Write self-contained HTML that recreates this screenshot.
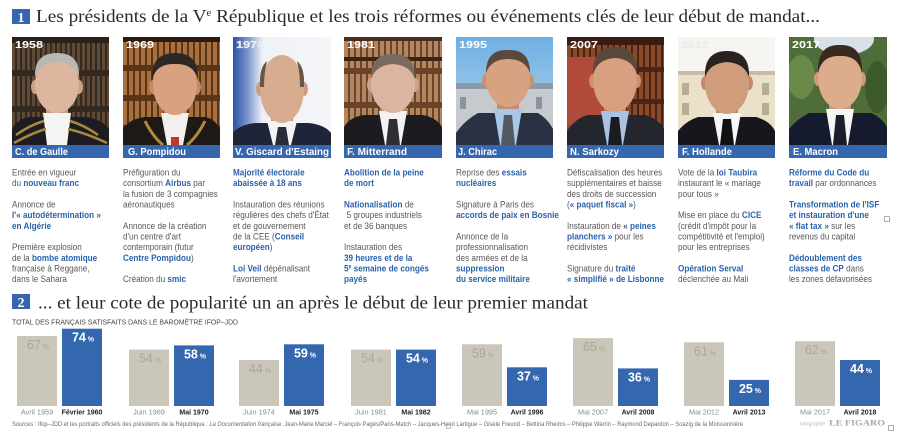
<!DOCTYPE html>
<html><head><meta charset="utf-8"><style>
html,body{margin:0;padding:0;background:#fff;}
svg{display:block;}
</style></head><body>
<svg width="900" height="436" viewBox="0 0 900 436" xmlns="http://www.w3.org/2000/svg" font-family="Liberation Sans, sans-serif">
<defs>
<pattern id="bk1" width="5" height="36" patternUnits="userSpaceOnUse"><rect width="5" height="36" fill="#33291f"/><rect x="0" y="3" width="3" height="30" fill="#5e4a36"/></pattern>
<pattern id="bk2" width="6" height="30" patternUnits="userSpaceOnUse"><rect width="6" height="30" fill="#5a3418"/><rect x="0" y="4" width="4" height="24" fill="#a8703e"/></pattern>
<pattern id="bk4" width="6" height="34" patternUnits="userSpaceOnUse"><rect width="6" height="34" fill="#6a4428"/><rect x="0" y="3" width="4" height="28" fill="#b38560"/></pattern>
<pattern id="bk6" width="6" height="32" patternUnits="userSpaceOnUse"><rect width="6" height="32" fill="#4a2414"/><rect x="0" y="3" width="4" height="27" fill="#8a4a2a"/></pattern>
<linearGradient id="sky" x1="0" y1="0" x2="0" y2="1"><stop offset="0" stop-color="#6fb0e2"/><stop offset="1" stop-color="#b8d6ee"/></linearGradient>
<linearGradient id="gis" x1="0" y1="0" x2="1" y2="0"><stop offset="0" stop-color="#2c52a6"/><stop offset="0.15" stop-color="#7a95cc"/><stop offset="0.3" stop-color="#eef1f6"/><stop offset="1" stop-color="#f5f6f8"/></linearGradient>
</defs>
<rect width="900" height="436" fill="#fff"/>

<!-- Title 1 -->
<rect x="12" y="9" width="18" height="15" fill="#3566ae"/>
<text x="21" y="22" font-size="14" font-weight="bold" fill="#fff" text-anchor="middle" font-family="Liberation Serif, serif">1</text>
<text x="36" y="22" font-size="18" fill="#2a2a2a" font-family="Liberation Serif, serif" textLength="784" lengthAdjust="spacingAndGlyphs">Les présidents de la V<tspan font-size="10" dy="-6">e</tspan><tspan dy="6"> République et les trois réformes ou événements clés de leur début de mandat...</tspan></text>

<!-- Portraits -->
<svg x="12" y="37" width="97" height="108">
<rect width="97" height="108" fill="url(#bk1)"/><rect width="97" height="6" fill="#2a221a"/>
<rect x="34" y="64" width="22" height="18" fill="#c89c84"/>
<path d="M0,108 L0,92 Q6,82 17,80 L73,80 Q90,82 97,92 L97,108 Z" fill="#1c1c22"/>
<polygon points="31,76 59,76 55,108 35,108" fill="#f4f4f2"/>
<path d="M4,98 Q18,88 32,84 M86,98 Q72,88 58,84 M2,106 Q20,96 34,92 M95,106 Q74,96 56,92" stroke="#a8873e" stroke-width="2.5" fill="none"/>
<ellipse cx="23" cy="50" rx="4" ry="7" fill="#cfa088"/><ellipse cx="67" cy="50" rx="4" ry="7" fill="#cfa088"/>
<ellipse cx="45" cy="47" rx="22" ry="29" fill="#dcb69e"/>
<path d="M23,40 Q22,16 45,16 Q68,16 67,40 Q62,26 45,25 Q28,26 23,40 Z" fill="#b9b8b2"/>
</svg>
<svg x="123" y="37" width="97" height="108">
<rect width="97" height="108" fill="url(#bk2)"/><rect y="0" width="97" height="5" fill="#2a1a10"/>
<rect x="41" y="64" width="22" height="18" fill="#c48a6c"/>
<path d="M0,108 L0,92 Q6,82 22,80 L82,80 Q92,82 97,92 L97,108 Z" fill="#1c1916"/>
<polygon points="38,76 66,76 60,108 44,108" fill="#f2f0ee"/>
<path d="M22,84 Q30,100 40,108 M82,84 Q74,100 64,108" stroke="#b08a3a" stroke-width="3" fill="none"/>
<rect x="48" y="100" width="8" height="8" fill="#c0392b"/>
<ellipse cx="30" cy="50" rx="4" ry="7" fill="#c88868"/><ellipse cx="74" cy="50" rx="4" ry="7" fill="#c88868"/>
<ellipse cx="52" cy="48" rx="22" ry="30" fill="#d8a282"/>
<path d="M29,42 Q28,16 52,16 Q76,16 75,42 Q70,26 52,27 Q34,26 29,42 Z" fill="#2c2824"/>
</svg>
<svg x="233" y="37" width="98" height="108">
<rect width="98" height="108" fill="url(#gis)"/>
<rect x="38" y="70" width="22" height="18" fill="#c89a7c"/>
<path d="M0,108 L0,96 Q6,88 22,86 L76,86 Q92,88 98,96 L98,108 Z" fill="#1f2538"/>
<polygon points="34,84 64,84 58,108 40,108" fill="#f4f4f4"/>
<polygon points="45,90 53,90 56,108 42,108" fill="#2a2c3a"/>
<ellipse cx="27" cy="52" rx="4" ry="7" fill="#cc9c80"/><ellipse cx="71" cy="52" rx="4" ry="7" fill="#cc9c80"/>
<ellipse cx="49" cy="52" rx="22" ry="34" fill="#d8ac8e"/>
<path d="M27,50 Q26,30 34,24 Q31,36 31,50 Z M71,50 Q72,30 64,24 Q67,36 67,50 Z" fill="#6a5646"/>
</svg>
<svg x="344" y="37" width="98" height="108">
<rect width="98" height="108" fill="url(#bk4)"/><rect width="98" height="4" fill="#4a2e1a"/><rect y="20" width="98" height="4" fill="#3a2414"/>
<rect x="38" y="62" width="22" height="18" fill="#c49a88"/>
<path d="M0,108 L0,90 Q6,80 20,78 L78,78 Q92,80 98,90 L98,108 Z" fill="#1b1b20"/>
<polygon points="35,74 63,74 57,108 41,108" fill="#f2f2f0"/>
<polygon points="45,82 53,82 56,108 42,108" fill="#2e2e34"/>
<ellipse cx="27" cy="48" rx="4" ry="7" fill="#cfa290"/><ellipse cx="71" cy="48" rx="4" ry="7" fill="#cfa290"/>
<ellipse cx="49" cy="47" rx="22" ry="29" fill="#dcb4a2"/>
<path d="M27,42 Q27,16 49,17 Q71,16 71,42 Q66,28 49,27 Q32,28 27,42 Z" fill="#7a6a60"/>
</svg>
<svg x="456" y="37" width="97" height="108">
<rect width="97" height="108" fill="url(#sky)"/>
<rect x="0" y="46" width="97" height="62" fill="#c6cacf"/>
<rect x="0" y="46" width="97" height="6" fill="#8a9aa8"/>
<rect x="4" y="60" width="6" height="12" fill="#8a949e"/><rect x="80" y="60" width="6" height="12" fill="#8a949e"/>
<rect x="41" y="58" width="22" height="18" fill="#c49070"/>
<path d="M0,108 L0,96 Q8,84 22,76 L82,76 Q92,82 97,92 L97,108 Z" fill="#2a3142"/>
<polygon points="38,72 66,72 60,108 44,108" fill="#a9c7e6"/>
<polygon points="48,78 56,78 59,108 45,108" fill="#55585e"/>
<ellipse cx="30" cy="44" rx="4" ry="7" fill="#c8906e"/><ellipse cx="74" cy="44" rx="4" ry="7" fill="#c8906e"/>
<ellipse cx="52" cy="42" rx="22" ry="28" fill="#d6a282"/>
<path d="M30,36 Q30,12 52,13 Q74,12 74,36 Q69,22 52,22 Q35,22 30,36 Z" fill="#5a4a3e"/>
</svg>
<svg x="567" y="37" width="97" height="108">
<rect width="97" height="108" fill="url(#bk6)"/>
<rect x="0" y="20" width="40" height="68" fill="#b24a3c"/>
<rect x="0" y="0" width="97" height="8" fill="#3a1c10"/>
<rect x="37" y="62" width="22" height="18" fill="#c48a68"/>
<path d="M0,108 L0,94 Q8,82 20,78 L78,78 Q92,82 97,92 L97,108 Z" fill="#24262e"/>
<polygon points="34,74 62,74 56,108 40,108" fill="#a8c2e2"/>
<polygon points="44,80 52,80 55,108 41,108" fill="#1a1a20"/>
<ellipse cx="26" cy="44" rx="4" ry="7" fill="#cc9070"/><ellipse cx="70" cy="44" rx="4" ry="7" fill="#cc9070"/>
<ellipse cx="48" cy="43" rx="22" ry="32" fill="#d8a080"/>
<path d="M26,38 Q25,9 48,10 Q71,9 70,38 Q66,22 48,21 Q30,22 26,38 Z" fill="#5a4838"/>
</svg>
<svg x="678" y="37" width="97" height="108">
<rect width="97" height="108" fill="#f6f5f2"/>
<rect x="0" y="34" width="97" height="60" fill="#ebe1c8"/>
<rect x="0" y="34" width="97" height="4" fill="#c8bca4"/>
<rect x="4" y="46" width="7" height="12" fill="#b8ae98"/><rect x="84" y="46" width="7" height="12" fill="#b8ae98"/>
<rect x="4" y="66" width="7" height="12" fill="#b8ae98"/><rect x="84" y="66" width="7" height="12" fill="#b8ae98"/>
<rect x="38" y="62" width="22" height="18" fill="#bc8a6a"/>
<path d="M0,108 L0,94 Q8,84 20,80 L78,80 Q92,84 97,94 L97,108 Z" fill="#16171d"/>
<polygon points="35,76 63,76 57,108 41,108" fill="#f6f6f6"/>
<polygon points="45,82 53,82 56,108 42,108" fill="#111114"/>
<ellipse cx="27" cy="46" rx="4" ry="7" fill="#c08a6a"/><ellipse cx="71" cy="46" rx="4" ry="7" fill="#c08a6a"/>
<ellipse cx="49" cy="46" rx="22" ry="31" fill="#cf9c7c"/>
<path d="M27,40 Q26,14 49,14 Q72,14 71,40 Q66,26 49,25 Q32,26 27,40 Z" fill="#2a2220"/>
</svg>
<svg x="789" y="37" width="98" height="108">
<rect width="98" height="108" fill="#4f6d3a"/>
<ellipse cx="55" cy="2" rx="30" ry="16" fill="#d6e2e8"/>
<ellipse cx="12" cy="40" rx="14" ry="22" fill="#6a8a4a"/><ellipse cx="88" cy="50" rx="12" ry="26" fill="#3e5a2c"/>
<rect x="40" y="58" width="22" height="18" fill="#c8987a"/>
<path d="M0,108 L0,92 Q8,82 20,76 L82,76 Q92,80 98,90 L98,108 Z" fill="#151a2c"/>
<polygon points="37,72 65,72 59,108 43,108" fill="#f6f6f6"/>
<polygon points="47,78 55,78 58,108 44,108" fill="#1a1d2a"/>
<ellipse cx="29" cy="42" rx="4" ry="7" fill="#cc9a7c"/><ellipse cx="73" cy="42" rx="4" ry="7" fill="#cc9a7c"/>
<ellipse cx="51" cy="41" rx="22" ry="31" fill="#dcac8c"/>
<path d="M29,36 Q28,7 51,8 Q74,7 73,36 Q69,18 51,19 Q33,18 29,36 Z" fill="#3a2a20"/>
</svg>

<!-- years -->
<g font-size="10.5" font-weight="bold" fill="#fff">
<text x="15" y="48" textLength="28" lengthAdjust="spacingAndGlyphs">1958</text>
<text x="126" y="48" textLength="28" lengthAdjust="spacingAndGlyphs">1969</text>
<text x="236" y="48" textLength="28" lengthAdjust="spacingAndGlyphs" fill="#f4f6fa" stroke="#d8dde8" stroke-width="0.3">1974</text>
<text x="347" y="48" textLength="28" lengthAdjust="spacingAndGlyphs">1981</text>
<text x="459" y="48" textLength="28" lengthAdjust="spacingAndGlyphs">1995</text>
<text x="570" y="48" textLength="28" lengthAdjust="spacingAndGlyphs">2007</text>
<text x="681" y="48" textLength="28" lengthAdjust="spacingAndGlyphs" fill="#eceae6">2012</text>
<text x="792" y="48" textLength="28" lengthAdjust="spacingAndGlyphs">2017</text>
</g>

<!-- name bars -->
<g fill="#3566ae">
<rect x="12" y="145" width="97" height="13"/>
<rect x="123" y="145" width="97" height="13"/>
<rect x="233" y="145" width="98" height="13"/>
<rect x="344" y="145" width="98" height="13"/>
<rect x="456" y="145" width="97" height="13"/>
<rect x="567" y="145" width="97" height="13"/>
<rect x="678" y="145" width="97" height="13"/>
<rect x="789" y="145" width="98" height="13"/>
</g>
<g font-size="10" font-weight="bold" fill="#fff">
<text x="15" y="155" textLength="53" lengthAdjust="spacingAndGlyphs">C. de Gaulle</text>
<text x="128" y="155" textLength="58" lengthAdjust="spacingAndGlyphs">G. Pompidou</text>
<text x="235" y="155" textLength="94" lengthAdjust="spacingAndGlyphs">V. Giscard d'Estaing</text>
<text x="347" y="155" textLength="60" lengthAdjust="spacingAndGlyphs">F. Mitterrand</text>
<text x="458" y="155" textLength="39" lengthAdjust="spacingAndGlyphs">J. Chirac</text>
<text x="570" y="155" textLength="49" lengthAdjust="spacingAndGlyphs">N. Sarkozy</text>
<text x="682" y="155" textLength="50" lengthAdjust="spacingAndGlyphs">F. Hollande</text>
<text x="793" y="155" textLength="45" lengthAdjust="spacingAndGlyphs">E. Macron</text>
</g>

<!-- body text columns -->
<g font-size="9.5" fill="#575757">
<g transform="translate(12,0) scale(0.86,1)">
<text y="175.5">Entrée en vigueur</text>
<text y="186.2">du <tspan font-weight="bold" fill="#2a62aa">nouveau franc</tspan></text>
<text y="207.5">Annonce de</text>
<text y="218.1" font-weight="bold" fill="#2a62aa">l'« autodétermination »</text>
<text y="228.8" font-weight="bold" fill="#2a62aa">en Algérie</text>
<text y="250.1">Première explosion</text>
<text y="260.8">de la <tspan font-weight="bold" fill="#2a62aa">bombe atomique</tspan></text>
<text y="271.4">française à Reggane,</text>
<text y="282.1">dans le Sahara</text>
</g>
<g transform="translate(123,0) scale(0.86,1)">
<text y="175.5">Préfiguration du</text>
<text y="186.2">consortium <tspan font-weight="bold" fill="#2a62aa">Airbus</tspan> par</text>
<text y="196.8">la fusion de 3 compagnies</text>
<text y="207.5">aéronautiques</text>
<text y="228.8">Annonce de la création</text>
<text y="239.5">d'un centre d'art</text>
<text y="250.1">contemporain (futur</text>
<text y="260.8"><tspan font-weight="bold" fill="#2a62aa">Centre Pompidou</tspan>)</text>
<text y="282.1">Création du <tspan font-weight="bold" fill="#2a62aa">smic</tspan></text>
</g>
<g transform="translate(233,0) scale(0.86,1)">
<text y="175.5" font-weight="bold" fill="#2a62aa">Majorité électorale</text>
<text y="186.2" font-weight="bold" fill="#2a62aa">abaissée à 18 ans</text>
<text y="207.5">Instauration des réunions</text>
<text y="218.1">régulières des chefs d'État</text>
<text y="228.8">et de gouvernement</text>
<text y="239.5">de la CEE (<tspan font-weight="bold" fill="#2a62aa">Conseil</tspan></text>
<text y="250.1"><tspan font-weight="bold" fill="#2a62aa">européen</tspan>)</text>
<text y="271.4"><tspan font-weight="bold" fill="#2a62aa">Loi Veil</tspan> dépénalisant</text>
<text y="282.1">l'avortement</text>
</g>
<g transform="translate(344,0) scale(0.86,1)">
<text y="175.5" font-weight="bold" fill="#2a62aa">Abolition de la peine</text>
<text y="186.2" font-weight="bold" fill="#2a62aa">de mort</text>
<text y="207.5"><tspan font-weight="bold" fill="#2a62aa">Nationalisation</tspan> de</text>
<text y="218.1" x="3">5 groupes industriels</text>
<text y="228.8">et de 36 banques</text>
<text y="250.1">Instauration des</text>
<text y="260.8" font-weight="bold" fill="#2a62aa">39 heures et de la</text>
<text y="271.4" font-weight="bold" fill="#2a62aa">5<tspan font-size="6" dy="-3">e</tspan><tspan dy="3"> semaine de congés</tspan></text>
<text y="282.1" font-weight="bold" fill="#2a62aa">payés</text>
</g>
<g transform="translate(456,0) scale(0.86,1)">
<text y="175.5">Reprise des <tspan font-weight="bold" fill="#2a62aa">essais</tspan></text>
<text y="186.2" font-weight="bold" fill="#2a62aa">nucléaires</text>
<text y="207.5">Signature à Paris des</text>
<text y="218.1" font-weight="bold" fill="#2a62aa">accords de paix en Bosnie</text>
<text y="239.5">Annonce de la</text>
<text y="250.1">professionnalisation</text>
<text y="260.8">des armées et de la</text>
<text y="271.4" font-weight="bold" fill="#2a62aa">suppression</text>
<text y="282.1" font-weight="bold" fill="#2a62aa">du service militaire</text>
</g>
<g transform="translate(567,0) scale(0.86,1)">
<text y="175.5">Défiscalisation des heures</text>
<text y="186.2">supplémentaires et baisse</text>
<text y="196.8">des droits de succession</text>
<text y="207.5">(<tspan font-weight="bold" fill="#2a62aa">« paquet fiscal »</tspan>)</text>
<text y="228.8">Instauration de <tspan font-weight="bold" fill="#2a62aa">« peines</tspan></text>
<text y="239.5"><tspan font-weight="bold" fill="#2a62aa">planchers »</tspan> pour les</text>
<text y="250.1">récidivistes</text>
<text y="271.4">Signature du <tspan font-weight="bold" fill="#2a62aa">traité</tspan></text>
<text y="282.1" font-weight="bold" fill="#2a62aa">« simplifié » de Lisbonne</text>
</g>
<g transform="translate(678,0) scale(0.86,1)">
<text y="175.5">Vote de la <tspan font-weight="bold" fill="#2a62aa">loi Taubira</tspan></text>
<text y="186.2">instaurant le « mariage</text>
<text y="196.8">pour tous »</text>
<text y="218.1">Mise en place du <tspan font-weight="bold" fill="#2a62aa">CICE</tspan></text>
<text y="228.8">(crédit d'impôt pour la</text>
<text y="239.5">compétitivité et l'emploi)</text>
<text y="250.1">pour les entreprises</text>
<text y="271.4" font-weight="bold" fill="#2a62aa">Opération Serval</text>
<text y="282.1">déclenchée au Mali</text>
</g>
<g transform="translate(789,0) scale(0.86,1)">
<text y="175.5" font-weight="bold" fill="#2a62aa">Réforme du Code du</text>
<text y="186.2"><tspan font-weight="bold" fill="#2a62aa">travail</tspan> par ordonnances</text>
<text y="207.5" font-weight="bold" fill="#2a62aa">Transformation de l'ISF</text>
<text y="218.1" font-weight="bold" fill="#2a62aa">et instauration d'une</text>
<text y="228.8"><tspan font-weight="bold" fill="#2a62aa">« flat tax »</tspan> sur les</text>
<text y="239.5">revenus du capital</text>
<text y="260.8" font-weight="bold" fill="#2a62aa">Dédoublement des</text>
<text y="271.4"><tspan font-weight="bold" fill="#2a62aa">classes de CP</tspan> dans</text>
<text y="282.1">les zones défavorisées</text>
</g>
</g>
<rect x="884.5" y="216.5" width="5" height="5" fill="none" stroke="#999" stroke-width="0.8"/>

<!-- Title 2 -->
<rect x="12" y="294" width="18" height="15" fill="#3566ae"/>
<text x="21" y="307" font-size="14" font-weight="bold" fill="#fff" text-anchor="middle" font-family="Liberation Serif, serif">2</text>
<text x="38" y="308.5" font-size="18" fill="#2a2a2a" font-family="Liberation Serif, serif" textLength="550" lengthAdjust="spacingAndGlyphs">... et leur cote de popularité un an après le début de leur premier mandat</text>
<text x="12" y="324.5" font-size="7" fill="#444" textLength="226" lengthAdjust="spacingAndGlyphs">TOTAL DES FRANÇAIS SATISFAITS DANS LE BAROMÈTRE IFOP–JDD</text>

<!-- bars -->
<g fill="#cac6b9">
<rect x="17" y="336" width="40" height="70"/>
<rect x="129" y="349.6" width="40" height="56.4"/>
<rect x="239" y="360" width="40" height="46"/>
<rect x="351" y="349.6" width="40" height="56.4"/>
<rect x="462" y="344.3" width="40" height="61.7"/>
<rect x="573" y="338.1" width="40" height="67.9"/>
<rect x="684" y="342.3" width="40" height="63.7"/>
<rect x="795" y="341.2" width="40" height="64.8"/>
</g>
<g fill="#3567ae">
<rect x="62" y="328.7" width="40" height="77.3"/>
<rect x="174" y="345.4" width="40" height="60.6"/>
<rect x="284" y="344.3" width="40" height="61.7"/>
<rect x="396" y="349.6" width="40" height="56.4"/>
<rect x="507" y="367.3" width="40" height="38.7"/>
<rect x="618" y="368.4" width="40" height="37.6"/>
<rect x="729" y="379.9" width="40" height="26.1"/>
<rect x="840" y="360" width="40" height="46"/>
</g>
<g font-size="12.5" fill="#aaa699" text-anchor="middle">
<text x="38" y="349">67<tspan font-size="7"> %</tspan></text>
<text x="150" y="362.6">54<tspan font-size="7"> %</tspan></text>
<text x="260" y="373">44<tspan font-size="7"> %</tspan></text>
<text x="372" y="362.6">54<tspan font-size="7"> %</tspan></text>
<text x="483" y="357.3">59<tspan font-size="7"> %</tspan></text>
<text x="594" y="351.1">65<tspan font-size="7"> %</tspan></text>
<text x="705" y="355.3">61<tspan font-size="7"> %</tspan></text>
<text x="816" y="354.2">62<tspan font-size="7"> %</tspan></text>
</g>
<g font-size="12.5" font-weight="bold" fill="#fff" text-anchor="middle">
<text x="83" y="341.7">74<tspan font-size="7"> %</tspan></text>
<text x="195" y="358.4">58<tspan font-size="7"> %</tspan></text>
<text x="305" y="357.3">59<tspan font-size="7"> %</tspan></text>
<text x="417" y="362.6">54<tspan font-size="7"> %</tspan></text>
<text x="528" y="380.3">37<tspan font-size="7"> %</tspan></text>
<text x="639" y="381.4">36<tspan font-size="7"> %</tspan></text>
<text x="750" y="392.9">25<tspan font-size="7"> %</tspan></text>
<text x="861" y="373">44<tspan font-size="7"> %</tspan></text>
</g>
<g font-size="7.3" fill="#8a8a8a" text-anchor="middle">
<text x="37" y="414.5">Avril 1959</text>
<text x="149" y="414.5">Juin 1969</text>
<text x="259" y="414.5">Juin 1974</text>
<text x="371" y="414.5">Juin 1981</text>
<text x="482" y="414.5">Mai 1995</text>
<text x="593" y="414.5">Mai 2007</text>
<text x="704" y="414.5">Mai 2012</text>
<text x="815" y="414.5">Mai 2017</text>
</g>
<g font-size="7" font-weight="bold" fill="#222" text-anchor="middle">
<text x="82" y="414.5">Février 1960</text>
<text x="194" y="414.5">Mai 1970</text>
<text x="304" y="414.5">Mai 1975</text>
<text x="416" y="414.5">Mai 1982</text>
<text x="527" y="414.5">Avril 1996</text>
<text x="638" y="414.5">Avril 2008</text>
<text x="749" y="414.5">Avril 2013</text>
<text x="860" y="414.5">Avril 2018</text>
</g>

<text x="12" y="426" font-size="6.2" fill="#6a6a6a" textLength="731" lengthAdjust="spacingAndGlyphs">Sources : Ifop–JDD et les portraits officiels des présidents de la République : <tspan font-style="italic">La Documentation française</tspan>. Jean-Marie Marcel – François Pagès/Paris-Match – Jacques-Henri Lartigue – Gisèle Freund – Bettina Rheims – Philippe Warrin – Raymond Depardon – Soazig de la Moissonnière</text>
<text x="800" y="425.5" font-size="5" fill="#b8b8b8">Infographie</text>
<text x="829" y="425.5" font-size="8" font-weight="bold" fill="#a8a8a8" font-family="Liberation Serif, serif" textLength="56" lengthAdjust="spacingAndGlyphs">LE FIGARO</text>
<rect x="888.5" y="425.5" width="5" height="5" fill="none" stroke="#999" stroke-width="0.8"/>
<rect x="446.5" y="424.5" width="4" height="4" fill="none" stroke="#aaa" stroke-width="0.7"/>
</svg>
</body></html>
